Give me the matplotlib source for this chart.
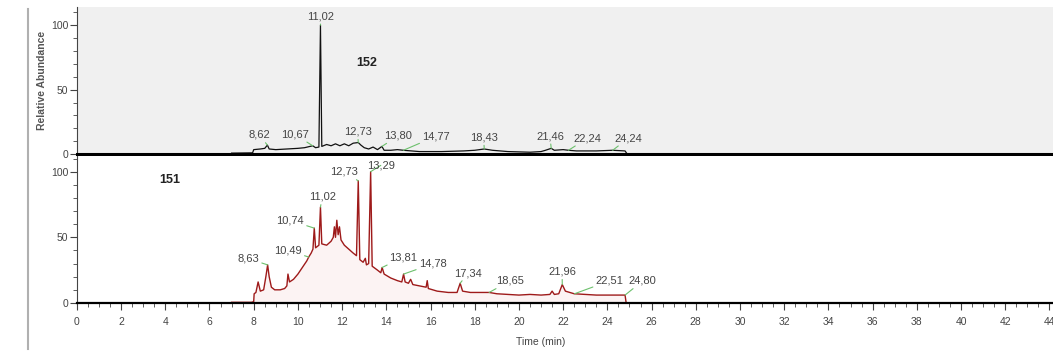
import matplotlib
matplotlib.use("Agg")
import matplotlib.pyplot as plt
from matplotlib.lines import Line2D
from matplotlib.ticker import MultipleLocator
import numpy as np

plt.rcParams['font.family'] = ['Liberation Sans', 'DejaVu Sans']

# Chromatogram 152 (upper trace)
t152 = [7.0, 7.95, 8.0, 8.3, 8.5, 8.62, 8.7, 9.0, 9.5, 10.0, 10.3, 10.67, 10.8, 10.95,
        11.02, 11.08, 11.3, 11.5, 11.7, 11.9, 12.1, 12.3, 12.5, 12.73, 12.85, 13.0, 13.2,
        13.4, 13.6, 13.8, 13.9, 14.2, 14.5, 14.77, 15.5, 16.5, 17.5, 18.0, 18.43, 18.8,
        19.5, 20.5, 21.0, 21.2, 21.46, 21.6, 22.0, 22.24, 22.6, 23.5, 24.24, 24.8, 24.9, 44.2]
i152 = [0.8, 1.0, 3.5, 4.0, 4.5, 7.0, 4.0, 3.5, 4.0, 4.5, 5.0, 6.5, 5.0, 5.5,
        100, 6.0, 7.5, 6.5, 8.0, 6.5, 8.0, 6.5, 8.5, 9.0, 7.0, 5.0, 4.0,
        5.5, 3.5, 6.0, 3.0, 3.0, 3.5, 3.0, 2.0, 2.0, 2.5, 3.0, 4.0, 3.0,
        2.0, 1.5, 2.0, 3.0, 4.5, 3.0, 3.5, 3.0, 2.5, 2.5, 3.0, 2.5, 0.0, 0.0]

# Chromatogram 151 (lower trace)
t151 = [7.0, 7.9, 8.0, 8.02, 8.1, 8.2, 8.3, 8.45, 8.55, 8.63, 8.7, 8.8, 8.95, 9.2, 9.4,
        9.5, 9.55, 9.62, 9.8, 10.0, 10.2, 10.4, 10.49, 10.6, 10.68, 10.74, 10.8, 10.95,
        11.02, 11.08, 11.3, 11.5, 11.6, 11.65, 11.7, 11.76, 11.82, 11.88, 11.95, 12.1,
        12.3, 12.5, 12.65, 12.73, 12.8, 12.95, 13.05, 13.1, 13.2, 13.29, 13.36, 13.6,
        13.75, 13.81, 13.9, 14.2, 14.5, 14.7, 14.78, 14.85, 15.0, 15.1, 15.2, 15.5, 15.8,
        15.85, 15.9, 16.3, 16.8, 17.2, 17.34, 17.45, 17.8, 18.3, 18.65, 19.0, 19.5, 20.0,
        20.5, 21.0, 21.4, 21.5, 21.6, 21.8, 21.96, 22.1, 22.5, 23.0, 23.5, 24.0, 24.5,
        24.8, 24.85, 44.2]
i151 = [0.5, 0.5, 1, 7, 8, 16, 9, 10, 20, 29, 20, 12, 10, 10, 11,
        13, 22, 16, 18, 22, 27, 32, 35, 38, 41, 57, 42, 44,
        73, 45, 44, 47, 50, 58, 50, 63, 52, 58, 48, 44,
        41, 38, 36, 93, 33, 31, 34, 29, 30, 100, 28, 25,
        23, 27, 22, 19, 17, 16, 22, 16, 15, 18, 14, 13, 12,
        17, 11, 9, 8, 8, 15, 9, 8, 8, 8, 7, 6.5, 6,
        6.5, 6, 6.5, 9, 6.5, 7, 14, 9, 7, 6.5, 6, 6, 6,
        6, 0, 0]

# peak labels: retention time, label x, label y
pk152 = [8.62, 10.67, 11.02, 12.73, 13.80, 14.77, 18.43, 21.46, 22.24, 24.24]
lx152 = [8.25, 9.85, 11.04, 12.7, 14.55, 16.25, 18.4, 21.4, 23.1, 24.95]
ly152 = [11, 11.5, 103, 13.5, 10.5, 10, 9, 10, 8.5, 8.5]

pk151 = [8.63, 10.49, 10.74, 11.02, 12.73, 13.29, 13.81, 14.78, 17.34, 18.65, 21.96, 22.51, 24.80]
lx151 = [7.75, 9.55, 9.65, 11.1, 12.1, 13.75, 14.75, 16.1, 17.7, 19.6, 21.95, 24.1, 25.6]
ly151 = [30, 36, 59, 77, 96, 101, 31, 26, 19, 13, 20, 13, 13]

green = '#6cc06c'
txtc = '#444444'

fig = plt.figure(figsize=(10.53, 3.56), dpi=100)
ax1 = fig.add_axes([0.073, 0.567, 0.927, 0.413])
ax2 = fig.add_axes([0.073, 0.149, 0.927, 0.413])

# upper panel
ax1.set_facecolor('#f0f0f0')
ax1.plot(t152, i152, color='#111111', lw=0.9)
ax1.set_xlim(0, 44.16)
ax1.set_ylim(0, 114)
for s in ['top', 'right']:
    ax1.spines[s].set_visible(False)
ax1.spines['bottom'].set_linewidth(2.2)
ax1.spines['left'].set_linewidth(0.8)
ax1.spines['left'].set_color('#444444')
ax1.set_xticks([])
ax1.yaxis.set_major_locator(MultipleLocator(50))
ax1.yaxis.set_minor_locator(MultipleLocator(10))
ax1.tick_params(axis='y', which='major', length=5, labelsize=7.5, labelcolor=txtc, color='#444444', pad=1)
ax1.tick_params(axis='y', which='minor', length=3, color='#444444')
ax1.set_ylabel('Relative Abundance', fontsize=7.5, color='#555555', fontweight='bold')
ax1.yaxis.set_label_coords(-0.031, 0.5)
ax1.text(13.1, 71, '152', fontsize=9, fontweight='bold', color='#222222', ha='center', va='center')

for pk, lx, ly in zip(pk152, lx152, ly152):
    ax1.annotate(f"{pk:.2f}".replace('.', ','), xy=(pk, np.interp(pk, t152, i152)),
                 xytext=(lx, ly), textcoords='data', fontsize=8, color=txtc,
                 ha='center', va='bottom',
                 arrowprops=dict(arrowstyle='-', color=green, lw=0.8, shrinkA=0, shrinkB=0))

# lower panel
ax2.plot(t151, i151, color='#9e1a1a', lw=1.0)
ax2.fill_between(t151, i151, color='#f7dede', alpha=0.35, lw=0)
ax2.set_xlim(0, 44.16)
ax2.set_ylim(0, 112)
for s in ['top', 'right']:
    ax2.spines[s].set_visible(False)
ax2.spines['bottom'].set_linewidth(1.6)
ax2.spines['left'].set_linewidth(0.8)
ax2.spines['left'].set_color('#444444')
ax2.xaxis.set_major_locator(MultipleLocator(2))
ax2.xaxis.set_minor_locator(MultipleLocator(0.5))
ax2.yaxis.set_major_locator(MultipleLocator(50))
ax2.yaxis.set_minor_locator(MultipleLocator(10))
ax2.tick_params(which='major', length=5, labelsize=7.5, labelcolor=txtc, color='#444444', pad=5)
ax2.tick_params(which='minor', length=3, color='#444444')
ax2.tick_params(axis='y', pad=1)
ax2.set_xlabel('Time (min)', fontsize=7.5, color='#444444')
ax2.xaxis.set_label_coords(0.475, -0.23)
ax2.text(4.2, 94, '151', fontsize=9, fontweight='bold', color='#222222', ha='center', va='center')

for pk, lx, ly in zip(pk151, lx151, ly151):
    ax2.annotate(f"{pk:.2f}".replace('.', ','), xy=(pk, np.interp(pk, t151, i151)),
                 xytext=(lx, ly), textcoords='data', fontsize=8, color=txtc,
                 ha='center', va='bottom',
                 arrowprops=dict(arrowstyle='-', color=green, lw=0.8, shrinkA=0, shrinkB=0))

# left border line of the screenshot
fig.add_artist(Line2D([0.0266, 0.0266], [0.02, 0.975], color='#b0b0b0', lw=1.5))

fig.savefig('out.png', dpi=100)
